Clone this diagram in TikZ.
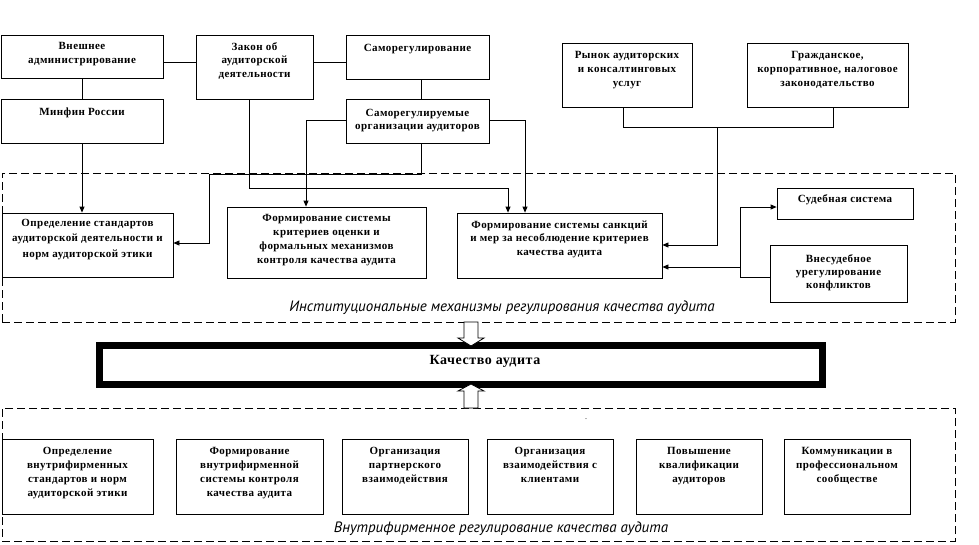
\documentclass[tikz,border=0pt]{standalone}
\usepackage{fontspec}
\setmainfont{Liberation Serif}
\newfontfamily\bxf[LetterSpace=4]{Liberation Serif}
\newfontfamily\itf{PT Sans}
\usetikzlibrary{arrows.meta}
\newcommand{\bt}[4]{\parbox[c][#2][t]{#1}{\centering\vspace*{\dimexpr#3-8pt\relax}\rule{0pt}{8pt}#4}}
\tikzset{
  box/.style={draw, line width=0.8pt, inner sep=0pt, fill=white,
    font=\bxf\bfseries\fontsize{11}{14}\selectfont},
  region/.style={draw, dash pattern=on 8pt off 4pt, line width=0.8pt, inner sep=0pt, outer sep=0pt},
  conn/.style={line width=0.8pt},
  arr/.style={line width=0.8pt, -{Triangle[length=6pt,width=5pt]}},
  hollow/.style={draw, line width=0.8pt, fill=white},
  reglabel/.style={font=\itf\itshape\fontsize{15}{18}\selectfont, anchor=base, inner sep=0pt}
}
\begin{document}
\begin{tikzpicture}[x=1pt,y=-1pt]
\useasboundingbox (0,0) rectangle (979,544);
\fill[white] (0,0) rectangle (979,544);

% dashed regions
\node[region, minimum width=953pt, minimum height=149pt] (inst) at (478.5,247.5) {};
\node[region, minimum width=953pt, minimum height=133pt] (intra) at (478.5,474.5) {};
\node[reglabel] (instlab) at (502,311) {Институциональные механизмы регулирования качества аудита};
\node[reglabel] (intralab) at (501,532) {Внутрифирменное регулирование качества аудита};

% top boxes
\node[box] (ext) at (82,56.5) {\bt{162pt}{43pt}{14pt}{Внешнее\\администрирование}};
\node[box] (minfin) at (82,121) {\bt{162pt}{44pt}{16pt}{Минфин России}};
\node[box] (law) at (254.5,67) {\bt{117pt}{64pt}{15pt}{\fontsize{11}{13.5}\selectfont Закон об\\аудиторской\\деятельности}};
\node[box] (selfreg) at (417.5,57) {\bt{143pt}{44pt}{16pt}{Саморегулирование}};
\node[box] (sro) at (417.5,121) {\bt{143pt}{44pt}{17pt}{\fontsize{11}{13}\selectfont Саморегулируемые\\организации аудиторов}};
\node[box] (market) at (627,75) {\bt{130pt}{64pt}{15pt}{Рынок аудиторских\\и консалтинговых\\услуг}};
\node[box] (civil) at (827.5,75) {\bt{161pt}{64pt}{15pt}{Гражданское,\\корпоративное, налоговое\\законодательство}};

% middle boxes
\node[box] (std) at (87.5,245) {\bt{171pt}{64pt}{13pt}{\fontsize{11}{15.5}\selectfont Определение стандартов\\аудиторской деятельности и\\норм аудиторской этики}};
\node[box] (crit) at (326.5,242.5) {\bt{199pt}{71pt}{14pt}{Формирование системы\\критериев оценки и\\формальных механизмов\\контроля качества аудита}};
\node[box] (sanc) at (559.5,245.5) {\bt{205pt}{65pt}{15pt}{\fontsize{11}{13.5}\selectfont Формирование системы санкций\\и мер за несоблюдение критериев\\качества аудита}};
\node[box] (court) at (845,203.5) {\bt{136pt}{31pt}{14pt}{Судебная система}};
\node[box] (extra) at (838.5,273.5) {\bt{137pt}{57pt}{17pt}{\fontsize{11}{13}\selectfont Внесудебное\\урегулирование\\конфликтов}};

% quality box
\node[draw, line width=7pt, inner sep=0pt, fill=white, font=\bxf\bfseries\fontsize{14}{16}\selectfont] (quality) at (461,365)
  {\parbox[c][39pt][t]{723pt}{\centering\vspace*{8.5pt}\rule{0pt}{10pt}\hspace*{48pt}Качество аудита}};

% bottom boxes
\begin{scope}[every node/.append style={font=\bxf\bfseries\fontsize{11}{13.7}\selectfont}]
\node[box] (b1) at (77.5,476.5) {\bt{151pt}{75pt}{15pt}{Определение\\внутрифирменных\\стандартов и норм\\аудиторской этики}};
\node[box] (b2) at (249.5,476.5) {\bt{147pt}{75pt}{15pt}{Формирование\\внутрифирменной\\системы контроля\\качества аудита}};
\node[box] (b3) at (405,476.5) {\bt{126pt}{75pt}{15pt}{Организация\\партнерского\\взаимодействия}};
\node[box] (b4) at (550,476.5) {\bt{126pt}{75pt}{15pt}{Организация\\взаимодействия с\\клиентами}};
\node[box] (b5) at (699,476.5) {\bt{126pt}{75pt}{15pt}{Повышение\\квалификации\\аудиторов}};
\node[box] (b6) at (847,476.5) {\bt{126pt}{75pt}{15pt}{Коммуникации в\\профессиональном\\сообществе}};
\end{scope}

\node[font=\fontsize{8}{8}\selectfont, inner sep=0pt] (dot) at (586,419) {.};

% helper coordinates
\coordinate (h62) at (0,62);
\coordinate (v421) at (421,0);
\coordinate (p1) at (249,188);
\coordinate (p2) at (508,188);
\coordinate (q1) at (306,120);
\coordinate (r1) at (421,174);
\coordinate (r2) at (209,174);
\coordinate (r3) at (209,243);
\coordinate (s1) at (525,120);
\coordinate (t1) at (623,127);
\coordinate (t2) at (833,127);
\coordinate (t3) at (717,127);
\coordinate (t4) at (717,245);
\coordinate (u1) at (740,207);
\coordinate (u2) at (740,277);
\coordinate (u3) at (740,267);

% connectors
\draw[conn] (ext.south) -- (minfin.north);
\draw[conn] (ext.east |- h62) -- (law.west |- h62);
\draw[conn] (law.east |- h62) -- (selfreg.west |- h62);
\draw[conn] (selfreg.south -| v421) -- (sro.north -| v421);
\draw[arr] (minfin.south) -- (std.north -| minfin.south);
\draw[arr] (law.south -| p1) -- (p1) -- (p2) -- (sanc.north -| p2);
\draw[arr] (sro.west |- q1) -- (q1) -- (crit.north -| q1);
\draw[arr] (sro.south -| r1) -- (r1) -- (r2) -- (r3) -- (std.east |- r3);
\draw[arr] (sro.east |- s1) -- (s1) -- (sanc.north -| s1);
\draw[conn] (market.south -| t1) -- (t1) -- (t2) -- (civil.south -| t2);
\draw[arr] (t3) -- (t4) -- (sanc.east |- t4);
\draw[arr] (u2) -- (u1) -- (court.west |- u1);
\draw[conn] (extra.west |- u2) -- (u2);
\draw[arr] (u3) -- (sanc.east |- u3);

% hollow arrows between regions and quality box
\draw[hollow] (inst.south -| 464,0) -- (464,338) -- (458,338) -- (471,346) -- (484,338) -- (478,338) -- (inst.south -| 478,0) -- cycle;
\draw[hollow] (intra.north -| 464,0) -- (464,391) -- (458,391) -- (471,384) -- (484,391) -- (478,391) -- (intra.north -| 478,0) -- cycle;
\end{tikzpicture}
\end{document}
